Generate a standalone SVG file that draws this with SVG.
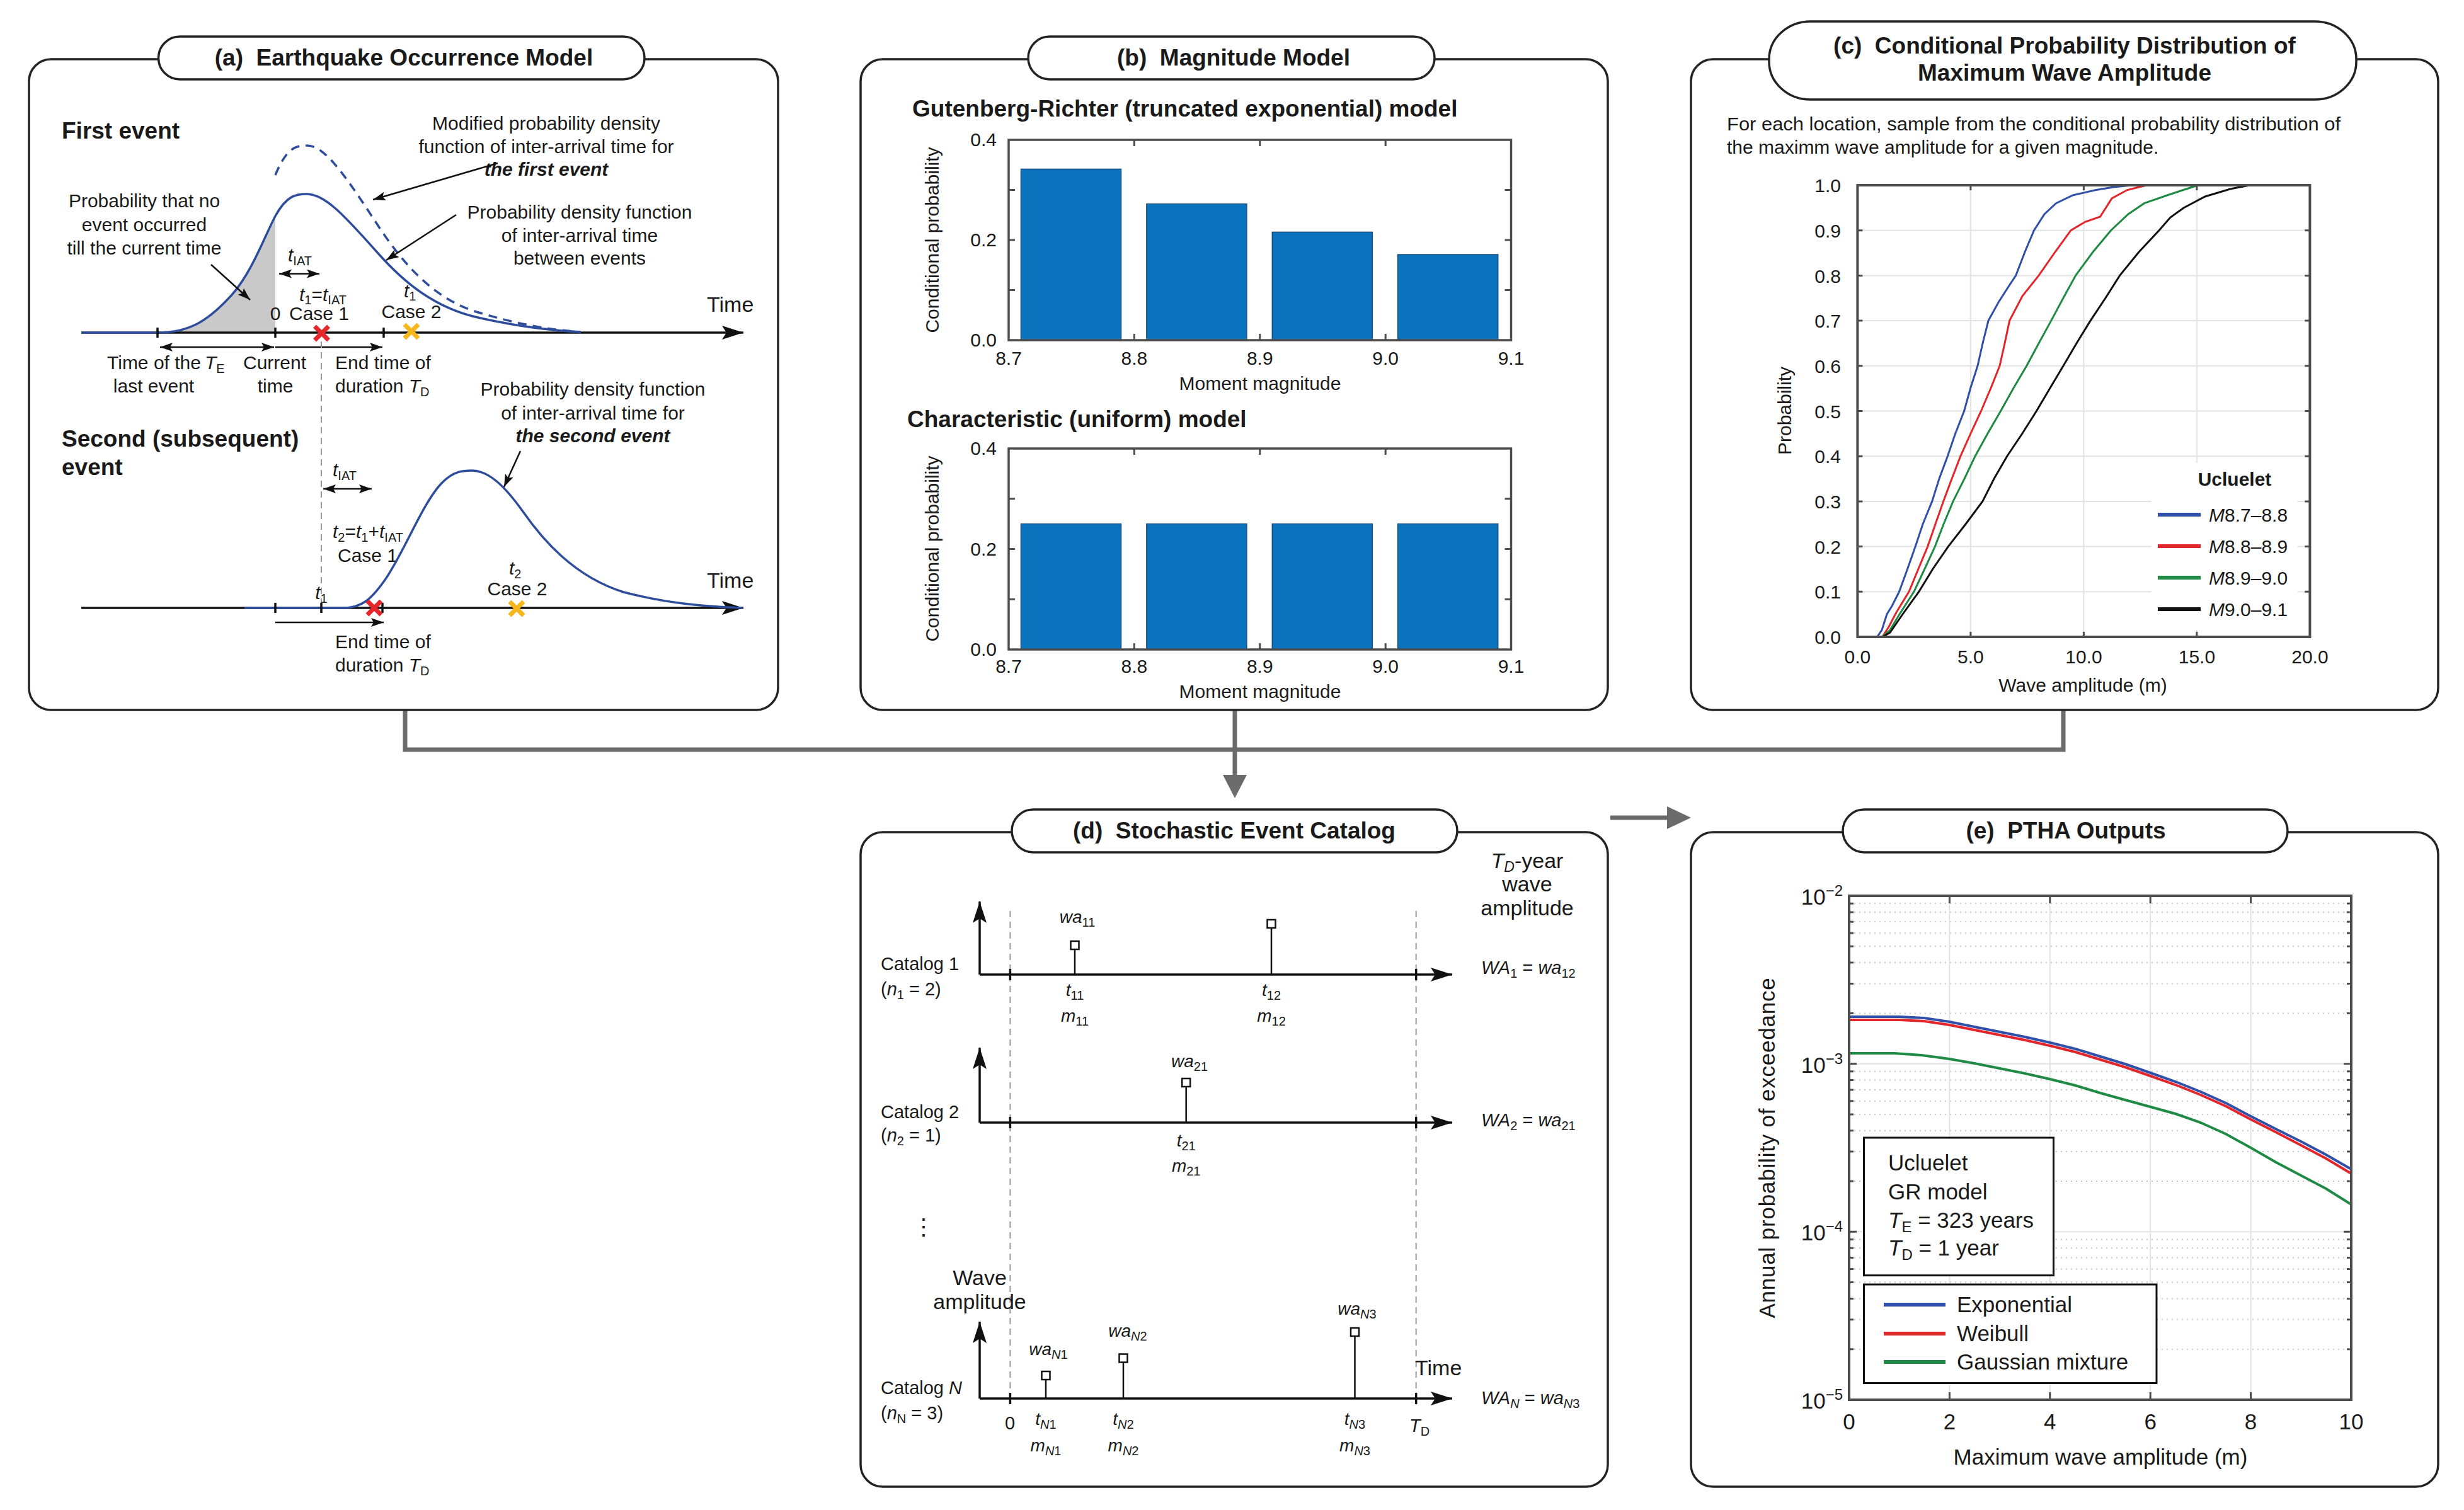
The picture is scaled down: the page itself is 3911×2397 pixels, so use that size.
<svg xmlns="http://www.w3.org/2000/svg" width="3911" height="2397" viewBox="0 0 3911 2397">
<style>
text{font-family:"Liberation Sans",Arial,sans-serif;fill:#1a1a1a}
.t28{font-size:28px}.t29{font-size:29px}.t30{font-size:30px}.t34{font-size:34px}.t35{font-size:35px}
.b37{font-size:37px;font-weight:bold}
.ttl{font-size:37px;font-weight:bold;text-anchor:middle}
.i{font-style:italic}.bi{font-style:italic;font-weight:bold}
.mid{text-anchor:middle}.end{text-anchor:end}
.frame{fill:none;stroke:#222;stroke-width:3.5}
.pill{fill:#fff;stroke:#222;stroke-width:3.5}
.ax{fill:none;stroke:#111;stroke-width:3.5}
.ann{fill:none;stroke:#111;stroke-width:2.5}
.tick{stroke:#111;stroke-width:3.5}
.pdf{fill:none;stroke:#2d4d9c;stroke-width:3.5}
.xr{stroke:#e5262b;stroke-width:7;stroke-linecap:butt}
.xy{stroke:#f5b71c;stroke-width:7;stroke-linecap:butt}
.box{fill:none;stroke:#4d4d4d;stroke-width:3.5}
.bar{fill:#0b72bd;stroke:#1d4f7d;stroke-width:1.5}
.grid{stroke:#e3e3e3;stroke-width:2;fill:none}
.mgrid{stroke:#c8c8c8;stroke-width:2;stroke-dasharray:2 6;fill:none}
.mtk{stroke:#4d4d4d;stroke-width:3}
.vd{stroke:#9a9a9a;stroke-width:2;stroke-dasharray:10 7;fill:none}
.stem{stroke:#111;stroke-width:2.5;fill:none}
.sq{fill:#fff;stroke:#111;stroke-width:2.5}
</style>
<defs>
<marker id="ah" markerUnits="userSpaceOnUse" markerWidth="40" markerHeight="30" refX="34" refY="11" orient="auto-start-reverse"><path d="M0,0 L34,11 L0,22 L7,11 Z" fill="#111"/></marker>
<marker id="sa" markerUnits="userSpaceOnUse" markerWidth="24" markerHeight="16" refX="20" refY="7" orient="auto-start-reverse"><path d="M0,0 L20,7 L0,14 L4,7 Z" fill="#111"/></marker>
</defs>
<rect width="3911" height="2397" fill="#fff"/>

<g id="connectors" fill="none" stroke="#6b6b6b" stroke-width="7">
<path d="M643,1127 V1190 H3275 V1127"/>
<path d="M1960,1127 V1234"/>
<polygon points="1941,1230 1979,1230 1960,1267" fill="#6b6b6b" stroke="none"/>
<path d="M2556,1298 H2650"/>
<polygon points="2646,1280 2684,1298 2646,1316" fill="#6b6b6b" stroke="none"/>
</g>

<g id="panel-a">
<rect class="frame" x="46" y="94" width="1189" height="1033" rx="35"/>
<rect class="pill" x="251.5" y="58" width="771.5" height="68" rx="34"/>
<text class="ttl" x="641" y="104">(a)&#160;&#160;Earthquake Occurrence Model</text>
<text class="b37" x="98" y="220">First event</text>
<path d="M250,528 C300,528 330,510 368,468 C400,432 420,375 437,343 L437,528 Z" fill="#c9c9c9"/>
<path class="ax" d="M129,528 H1180" marker-end="url(#ah)"/>
<path class="pdf" d="M129,528 L250,528 C300,528 330,510 368,468 C400,432 420,375 437,343 C455,310 470,308 487,308 C515,308 545,340 600,402 C640,447 690,490 763,505 C830,520 880,525 922,527"/>
<path class="pdf" stroke-dasharray="14 10" d="M437,278 C455,234 470,231 487,231 C515,231 545,274 600,358 C640,419 690,477 763,497 C830,517 880,524 922,527"/>
<line class="tick" x1="250" y1="520" x2="250" y2="536"/>
<line class="tick" x1="437" y1="520" x2="437" y2="536"/>
<line class="tick" x1="609" y1="520" x2="609" y2="536"/>
<path class="xr" d="M499.5,518 L521.5,540 M521.5,518 L499.5,540"/>
<path class="xy" d="M642,515 L664,537 M664,515 L642,537"/>
<text class="t30 mid" x="229" y="329">Probability that no</text>
<text class="t30 mid" x="229" y="367">event occurred</text>
<text class="t30 mid" x="229" y="404">till the current time</text>
<path class="ann" d="M335,420 L397,476" marker-end="url(#sa)"/>
<text class="t30 mid" x="867" y="206">Modified probability density</text>
<text class="t30 mid" x="867" y="243">function of inter-arrival time for</text>
<text class="t30 mid bi" x="867" y="279">the first event</text>
<path class="ann" d="M790,259 L592,317" marker-end="url(#sa)"/>
<text class="t30 mid" x="920" y="347">Probability density function</text>
<text class="t30 mid" x="920" y="384">of inter-arrival time</text>
<text class="t30 mid" x="920" y="420">between events</text>
<path class="ann" d="M724,341 L613,413" marker-end="url(#sa)"/>
<text class="t34" x="1122" y="495">Time</text>
<text class="t30" x="457" y="415"><tspan class="i">t</tspan><tspan font-size="20" dy="6">IAT</tspan></text>
<path class="ann" d="M443,434.5 H507" marker-start="url(#sa)" marker-end="url(#sa)"/>
<text class="t30" x="475" y="478"><tspan class="i">t</tspan><tspan font-size="20" dy="5">1</tspan><tspan dy="-5">=</tspan><tspan class="i">t</tspan><tspan font-size="20" dy="5">IAT</tspan></text>
<text class="t30 mid" x="437" y="508">0</text>
<text class="t30" x="459" y="508">Case 1</text>
<text class="t30" x="641" y="472"><tspan class="i">t</tspan><tspan font-size="20" dy="5">1</tspan></text>
<text class="t30 mid" x="653" y="505">Case 2</text>
<path class="ann" d="M254,551 H435" marker-start="url(#sa)" marker-end="url(#sa)"/>
<path class="ann" d="M437,551 H607" marker-end="url(#sa)"/>
<text class="t30" x="170" y="586">Time of the</text>
<text class="t30" x="325" y="586"><tspan class="i">T</tspan><tspan font-size="20" dy="6">E</tspan></text>
<text class="t30" x="386" y="586">Current</text>
<text class="t30" x="532" y="586">End time of</text>
<text class="t30 mid" x="244" y="623">last event</text>
<text class="t30 mid" x="437" y="623">time</text>
<text class="t30" x="532" y="623">duration <tspan class="i">T</tspan><tspan font-size="20" dy="6">D</tspan></text>
<line class="vd" x1="510" y1="542" x2="510" y2="965"/>
<text class="b37" x="98" y="709">Second (subsequent)</text>
<text class="b37" x="98" y="754">event</text>
<text class="t30" x="528" y="756"><tspan class="i">t</tspan><tspan font-size="20" dy="6">IAT</tspan></text>
<path class="ann" d="M513,776 H590" marker-start="url(#sa)" marker-end="url(#sa)"/>
<text class="t30" x="528" y="854"><tspan class="i">t</tspan><tspan font-size="20" dy="6">2</tspan><tspan dy="-6">=</tspan><tspan class="i">t</tspan><tspan font-size="20" dy="6">1</tspan><tspan dy="-6">+</tspan><tspan class="i">t</tspan><tspan font-size="20" dy="6">IAT</tspan></text>
<text class="t30" x="536" y="892">Case 1</text>
<text class="t30 mid" x="510" y="951"><tspan class="i">t</tspan><tspan font-size="20" dy="6">1</tspan></text>
<path class="ax" d="M129,965 H1180" marker-end="url(#ah)"/>
<path class="pdf" d="M388,965 L545,965 C575,965 590,950 610,922 C640,880 670,800 700,768 C720,747 735,747 749,747 C775,747 800,770 830,812 C860,855 910,915 990,940 C1060,958 1120,963 1179,965"/>
<line class="tick" x1="437" y1="957" x2="437" y2="973"/>
<line class="tick" x1="510" y1="957" x2="510" y2="973"/>
<line class="tick" x1="607" y1="957" x2="607" y2="973"/>
<path class="xr" d="M583,954 L605,976 M605,954 L583,976"/>
<path class="xy" d="M809,955 L831,977 M831,955 L809,977"/>
<path class="ann" d="M437,988 H609" marker-end="url(#sa)"/>
<text class="t30" x="532" y="1029">End time of</text>
<text class="t30" x="532" y="1066">duration <tspan class="i">T</tspan><tspan font-size="20" dy="6">D</tspan></text>
<text class="t30 mid" x="941" y="628">Probability density function</text>
<text class="t30 mid" x="941" y="666">of inter-arrival time for</text>
<text class="t30 mid bi" x="941" y="702">the second event</text>
<path class="ann" d="M826,716 L800,773" marker-end="url(#sa)"/>
<text class="t30" x="808" y="912"><tspan class="i">t</tspan><tspan font-size="20" dy="6">2</tspan></text>
<text class="t30 mid" x="821" y="945">Case 2</text>
<text class="t34" x="1122" y="933">Time</text>
</g>

<g id="panel-b">
<rect class="frame" x="1366" y="94" width="1186" height="1033" rx="35"/>
<rect class="pill" x="1632" y="58" width="645" height="68" rx="34"/>
<text class="ttl" x="1958" y="104">(b)&#160;&#160;Magnitude Model</text>
<text class="b37" x="1448" y="185">Gutenberg-Richter (truncated exponential) model</text>
<rect class="bar" x="1620.5" y="268.4" width="159" height="271.6"/>
<rect class="bar" x="1819.9" y="323.7" width="159" height="216.3"/>
<rect class="bar" x="2019.3" y="368.4" width="159" height="171.6"/>
<rect class="bar" x="2218.7" y="404" width="159" height="136"/>
<rect class="box" x="1601" y="222" width="797.5" height="318"/>
<path class="mtk" d="M1800.4,222 v10 M1999.8,222 v10 M2199.2,222 v10 M1800.4,540 v-10 M1999.8,540 v-10 M2199.2,540 v-10 M2398.5,460.5 h-10 M2398.5,381 h-10 M2398.5,301.5 h-10 M1601,460.5 h10 M1601,381 h10 M1601,301.5 h10"/>
<text class="t30 end" x="1582" y="232">0.4</text>
<text class="t30 end" x="1582" y="391">0.2</text>
<text class="t30 end" x="1582" y="550">0.0</text>
<text class="t30 mid" x="1601" y="579">8.7</text>
<text class="t30 mid" x="1800.4" y="579">8.8</text>
<text class="t30 mid" x="1999.8" y="579">8.9</text>
<text class="t30 mid" x="2199.2" y="579">9.0</text>
<text class="t30 mid" x="2398.5" y="579">9.1</text>
<text class="t30 mid" x="2000" y="619">Moment magnitude</text>
<text class="t30 mid" transform="translate(1490,381) rotate(-90)">Conditional probability</text>
<text class="b37" x="1440" y="678">Characteristic (uniform) model</text>
<rect class="bar" x="1620.5" y="831.6" width="159" height="199.4"/>
<rect class="bar" x="1819.9" y="831.6" width="159" height="199.4"/>
<rect class="bar" x="2019.3" y="831.6" width="159" height="199.4"/>
<rect class="bar" x="2218.7" y="831.6" width="159" height="199.4"/>
<rect class="box" x="1601" y="712" width="797.5" height="319"/>
<path class="mtk" d="M1800.4,712 v10 M1999.8,712 v10 M2199.2,712 v10 M1800.4,1031 v-10 M1999.8,1031 v-10 M2199.2,1031 v-10 M2398.5,951.3 h-10 M2398.5,871.5 h-10 M2398.5,791.8 h-10 M1601,951.3 h10 M1601,871.5 h10 M1601,791.8 h10"/>
<text class="t30 end" x="1582" y="722">0.4</text>
<text class="t30 end" x="1582" y="881.5">0.2</text>
<text class="t30 end" x="1582" y="1041">0.0</text>
<text class="t30 mid" x="1601" y="1068">8.7</text>
<text class="t30 mid" x="1800.4" y="1068">8.8</text>
<text class="t30 mid" x="1999.8" y="1068">8.9</text>
<text class="t30 mid" x="2199.2" y="1068">9.0</text>
<text class="t30 mid" x="2398.5" y="1068">9.1</text>
<text class="t30 mid" x="2000" y="1108">Moment magnitude</text>
<text class="t30 mid" transform="translate(1490,871) rotate(-90)">Conditional probability</text>
</g>

<g id="panel-c">
<rect class="frame" x="2684" y="94" width="1186" height="1033" rx="35"/>
<rect class="pill" x="2808" y="34" width="932" height="124" rx="66" ry="60"/>
<text class="ttl" x="3277" y="85">(c)&#160;&#160;Conditional Probability Distribution of</text>
<text class="ttl" x="3277" y="128">Maximum Wave Amplitude</text>
<text class="t30" x="2741" y="207" textLength="974" lengthAdjust="spacingAndGlyphs">For each location, sample from the conditional probability distribution of</text>
<text class="t30" x="2741" y="244">the maximm wave amplitude for a given magnitude.</text>
<path class="grid" d="M2948.4,939.3 H3666.4 M2948.4,867.6 H3666.4 M2948.4,795.9 H3666.4 M2948.4,724.2 H3666.4 M2948.4,652.5 H3666.4 M2948.4,580.8 H3666.4 M2948.4,509.1 H3666.4 M2948.4,437.4 H3666.4 M2948.4,365.7 H3666.4 M3127.9,294 V1011 M3307.4,294 V1011 M3486.9,294 V1011"/>
<rect x="3415" y="735" width="232" height="265" fill="#fff"/>
<polyline fill="none" stroke="#2f4fa8" stroke-width="3" points="2979.5,1011 2987,1000 2995,975 3003,962 3014.5,939.3 3027,905 3040.2,867.6 3052,832 3066.7,795.9 3078,760 3091.3,724.2 3103,690 3117.6,652.5 3128,615 3139,580.8 3147,545 3156,509.1 3172,480 3188,455 3199.7,437.4 3214,400 3228.5,365.7 3245,340 3263.5,322.7 3290,310 3325.7,301.8 3355,297 3384,294"/>
<polyline fill="none" stroke="#e3262b" stroke-width="3" points="2987.7,1011 2998,995 3010,972 3030,939.3 3045,903 3059.7,867.6 3072,832 3084.6,795.9 3098,760 3111.8,724.2 3128,688 3144.5,652.5 3160,616 3174,580.8 3182,545 3189.6,509.1 3210,470 3236,437.4 3262,400 3287,365.7 3310,352 3333.5,344 3352,315 3376,301.8 3395,297 3407.8,294"/>
<polyline fill="none" stroke="#1e8a44" stroke-width="3" points="2987.7,1011 3000,1000 3015,975 3037.9,939.3 3055,903 3071.3,867.6 3085,832 3100,795.9 3118,760 3135,724.2 3155,688 3175.6,652.5 3196,616 3216.8,580.8 3236,545 3255.7,509.1 3275,473 3294.6,437.4 3322,400 3350.6,365.7 3378,340 3403.5,322.7 3440,310 3458,304 3489,294"/>
<polyline fill="none" stroke="#111" stroke-width="3" points="2988,1011 3000,1004 3020,975 3045.7,939.3 3068,903 3092.3,867.6 3120,832 3146.8,795.9 3165,760 3185.7,724.2 3210,688 3232.4,652.5 3254,616 3275,580.8 3296,545 3318,509.1 3342,473 3364.6,437.4 3395,400 3427,365.7 3445,345 3466,330 3500,312 3540,300 3571,294"/>
<rect x="2948.4" y="294" width="718" height="717" fill="none" stroke="#4d4d4d" stroke-width="4"/>
<path class="mtk" d="M2948.4,939.3 h8 M2948.4,867.6 h8 M2948.4,795.9 h8 M2948.4,724.2 h8 M2948.4,652.5 h8 M2948.4,580.8 h8 M2948.4,509.1 h8 M2948.4,437.4 h8 M2948.4,365.7 h8 M3666.4,939.3 h-8 M3666.4,867.6 h-8 M3666.4,795.9 h-8 M3666.4,724.2 h-8 M3666.4,652.5 h-8 M3666.4,580.8 h-8 M3666.4,509.1 h-8 M3666.4,437.4 h-8 M3666.4,365.7 h-8 M3127.9,1011 v-8 M3307.4,1011 v-8 M3486.9,1011 v-8 M3127.9,294 v8 M3307.4,294 v8 M3486.9,294 v8"/>
<text class="t30 end" x="2922" y="1022">0.0</text>
<text class="t30 end" x="2922" y="950">0.1</text>
<text class="t30 end" x="2922" y="879">0.2</text>
<text class="t30 end" x="2922" y="807">0.3</text>
<text class="t30 end" x="2922" y="735">0.4</text>
<text class="t30 end" x="2922" y="664">0.5</text>
<text class="t30 end" x="2922" y="592">0.6</text>
<text class="t30 end" x="2922" y="520">0.7</text>
<text class="t30 end" x="2922" y="449">0.8</text>
<text class="t30 end" x="2922" y="377">0.9</text>
<text class="t30 end" x="2922" y="305">1.0</text>
<text class="t30 mid" x="2948.4" y="1053">0.0</text>
<text class="t30 mid" x="3127.9" y="1053">5.0</text>
<text class="t30 mid" x="3307.4" y="1053">10.0</text>
<text class="t30 mid" x="3486.9" y="1053">15.0</text>
<text class="t30 mid" x="3666.4" y="1053">20.0</text>
<text class="t30 mid" x="3306" y="1098">Wave amplitude (m)</text>
<text class="t30 mid" transform="translate(2843,652) rotate(-90)">Probability</text>
<text class="mid" x="3547" y="771" font-size="30" font-weight="bold">Ucluelet</text>
<path d="M3425,817 H3493" stroke="#2f4fa8" stroke-width="6"/>
<path d="M3425,867 H3493" stroke="#e3262b" stroke-width="6"/>
<path d="M3425,917 H3493" stroke="#1e8a44" stroke-width="6"/>
<path d="M3425,967 H3493" stroke="#111" stroke-width="6"/>
<text class="t30" x="3506" y="828"><tspan class="i">M</tspan>8.7–8.8</text>
<text class="t30" x="3506" y="878"><tspan class="i">M</tspan>8.8–8.9</text>
<text class="t30" x="3506" y="928"><tspan class="i">M</tspan>8.9–9.0</text>
<text class="t30" x="3506" y="978"><tspan class="i">M</tspan>9.0–9.1</text>
</g>

<g id="panel-d">
<rect class="frame" x="1366" y="1321" width="1186" height="1039" rx="35"/>
<rect class="pill" x="1606" y="1285" width="707" height="68" rx="34"/>
<text class="ttl" x="1959" y="1331">(d)&#160;&#160;Stochastic Event Catalog</text>
<line class="vd" x1="1603.4" y1="1446" x2="1603.4" y2="2229"/>
<line class="vd" x1="2247.7" y1="1446" x2="2247.7" y2="2229"/>
<text class="t34 mid" x="2424" y="1378"><tspan class="i">T</tspan><tspan class="i" font-size="23" dy="6">D</tspan><tspan dy="-6">-year</tspan></text>
<text class="t34 mid" x="2424" y="1415">wave</text>
<text class="t34 mid" x="2424" y="1453">amplitude</text>
<path class="ax" d="M1555,1547 V1431" marker-end="url(#ah)"/>
<path class="ax" d="M1555,1547 H2305" marker-end="url(#ah)"/>
<path class="tick" d="M1603.4,1538 V1556 M2247.7,1538 V1556"/>
<path class="stem" d="M1706,1547 V1507 M2018,1547 V1473"/>
<rect class="sq" x="1699.5" y="1494" width="13" height="13"/>
<rect class="sq" x="2011.5" y="1460" width="13" height="13"/>
<text class="t28 mid" x="1710" y="1465"><tspan class="i">wa</tspan><tspan font-size="20" dy="6">11</tspan></text>
<text class="t28 mid" x="1706" y="1581"><tspan class="i">t</tspan><tspan font-size="20" dy="6">11</tspan></text>
<text class="t28 mid" x="1706" y="1622"><tspan class="i">m</tspan><tspan font-size="20" dy="6">11</tspan></text>
<text class="t28 mid" x="2018" y="1581"><tspan class="i">t</tspan><tspan font-size="20" dy="6">12</tspan></text>
<text class="t28 mid" x="2018" y="1622"><tspan class="i">m</tspan><tspan font-size="20" dy="6">12</tspan></text>
<text class="t29" x="1398" y="1540">Catalog 1</text>
<text class="t29" x="1398" y="1580">(<tspan class="i">n</tspan><tspan font-size="20" dy="6">1</tspan><tspan dy="-6"> = 2)</tspan></text>
<text class="t29" x="2351" y="1546"><tspan class="i">WA</tspan><tspan font-size="20" dy="6">1</tspan><tspan dy="-6"> = </tspan><tspan class="i">wa</tspan><tspan font-size="20" dy="6">12</tspan></text>
<path class="ax" d="M1555,1782 V1663" marker-end="url(#ah)"/>
<path class="ax" d="M1555,1782 H2305" marker-end="url(#ah)"/>
<path class="tick" d="M1603.4,1773 V1791 M2247.7,1773 V1791"/>
<path class="stem" d="M1882.7,1782 V1725"/>
<rect class="sq" x="1876.2" y="1712" width="13" height="13"/>
<text class="t28 mid" x="1888" y="1694"><tspan class="i">wa</tspan><tspan font-size="20" dy="6">21</tspan></text>
<text class="t28 mid" x="1882.7" y="1820"><tspan class="i">t</tspan><tspan font-size="20" dy="6">21</tspan></text>
<text class="t28 mid" x="1882.7" y="1860"><tspan class="i">m</tspan><tspan font-size="20" dy="6">21</tspan></text>
<text class="t29" x="1398" y="1775">Catalog 2</text>
<text class="t29" x="1398" y="1812">(<tspan class="i">n</tspan><tspan font-size="20" dy="6">2</tspan><tspan dy="-6"> = 1)</tspan></text>
<text class="t29" x="2351" y="1788"><tspan class="i">WA</tspan><tspan font-size="20" dy="6">2</tspan><tspan dy="-6"> = </tspan><tspan class="i">wa</tspan><tspan font-size="20" dy="6">21</tspan></text>
<text x="1466" y="1960" font-family="DejaVu Sans, sans-serif" font-size="36" text-anchor="middle">⋮</text>
<text class="t34 mid" x="1555" y="2040">Wave</text>
<text class="t34 mid" x="1555" y="2078">amplitude</text>
<path class="ax" d="M1555,2220 V2098" marker-end="url(#ah)"/>
<path class="ax" d="M1555,2220 H2305" marker-end="url(#ah)"/>
<path class="tick" d="M1603.4,2211 V2229 M2247.7,2211 V2229"/>
<path class="stem" d="M1660,2220 V2190 M1783,2220 V2162.5 M2150.5,2220 V2121"/>
<rect class="sq" x="1653.5" y="2177" width="13" height="13"/>
<rect class="sq" x="1776.5" y="2149.5" width="13" height="13"/>
<rect class="sq" x="2144" y="2108" width="13" height="13"/>
<text class="t28 mid" x="1664" y="2151"><tspan class="i">wa</tspan><tspan class="i" font-size="20" dy="6">N</tspan><tspan font-size="20">1</tspan></text>
<text class="t28 mid" x="1790" y="2122"><tspan class="i">wa</tspan><tspan class="i" font-size="20" dy="6">N</tspan><tspan font-size="20">2</tspan></text>
<text class="t28 mid" x="2154" y="2087"><tspan class="i">wa</tspan><tspan class="i" font-size="20" dy="6">N</tspan><tspan font-size="20">3</tspan></text>
<text class="t34" x="2246" y="2183">Time</text>
<text class="t29" x="1398" y="2213">Catalog <tspan class="i">N</tspan></text>
<text class="t29" x="1398" y="2253">(<tspan class="i">n</tspan><tspan font-size="20" dy="6">N</tspan><tspan dy="-6"> = 3)</tspan></text>
<text class="t29 mid" x="1603" y="2269">0</text>
<text class="t28 mid" x="1660" y="2262"><tspan class="i">t</tspan><tspan class="i" font-size="20" dy="6">N</tspan><tspan font-size="20">1</tspan></text>
<text class="t28 mid" x="1660" y="2304"><tspan class="i">m</tspan><tspan class="i" font-size="20" dy="6">N</tspan><tspan font-size="20">1</tspan></text>
<text class="t28 mid" x="1783" y="2262"><tspan class="i">t</tspan><tspan class="i" font-size="20" dy="6">N</tspan><tspan font-size="20">2</tspan></text>
<text class="t28 mid" x="1783" y="2304"><tspan class="i">m</tspan><tspan class="i" font-size="20" dy="6">N</tspan><tspan font-size="20">2</tspan></text>
<text class="t28 mid" x="2150.5" y="2262"><tspan class="i">t</tspan><tspan class="i" font-size="20" dy="6">N</tspan><tspan font-size="20">3</tspan></text>
<text class="t28 mid" x="2150.5" y="2304"><tspan class="i">m</tspan><tspan class="i" font-size="20" dy="6">N</tspan><tspan font-size="20">3</tspan></text>
<text class="t29 mid" x="2253" y="2273"><tspan class="i">T</tspan><tspan font-size="20" dy="6">D</tspan></text>
<text class="t29" x="2351" y="2229"><tspan class="i">WA</tspan><tspan class="i" font-size="20" dy="6">N</tspan><tspan dy="-6"> = </tspan><tspan class="i">wa</tspan><tspan class="i" font-size="20" dy="6">N</tspan><tspan font-size="20">3</tspan></text>
</g>

<g id="panel-e">
<rect class="frame" x="2684" y="1321" width="1186" height="1039" rx="35"/>
<rect class="pill" x="2925" y="1285" width="706" height="68" rx="34"/>
<text class="ttl" x="3279" y="1331">(e)&#160;&#160;PTHA Outputs</text>
<path class="mgrid" d="M2935,1608.4 H3732 M2935,1561.5 H3732 M2935,1528.1 H3732 M2935,1502.3 H3732 M2935,1481.2 H3732 M2935,1463.3 H3732 M2935,1447.9 H3732 M2935,1434.2 H3732 M2935,1875 H3732 M2935,1828.1 H3732 M2935,1794.8 H3732 M2935,1768.9 H3732 M2935,1747.8 H3732 M2935,1730 H3732 M2935,1714.5 H3732 M2935,1700.8 H3732 M2935,2141.7 H3732 M2935,2094.8 H3732 M2935,2061.5 H3732 M2935,2035.6 H3732 M2935,2014.5 H3732 M2935,1996.6 H3732 M2935,1981.2 H3732 M2935,1967.5 H3732"/>
<path class="grid" d="M2935,1688.7 H3732 M2935,1955.3 H3732 M3094.4,1422 V2222 M3253.8,1422 V2222 M3413.2,1422 V2222 M3572.6,1422 V2222"/>
<polyline fill="none" stroke="#1e8a44" stroke-width="4" points="2935,1672 3006.7,1672 3050,1675 3094.4,1681 3134,1688 3174.1,1696 3214,1704 3253.8,1713 3294,1723 3333.5,1735 3373,1746 3413.2,1757 3453,1768 3492.9,1782 3532.8,1800 3572.6,1822 3612.5,1845 3652.3,1866 3692.2,1887 3732,1912"/>
<polyline fill="none" stroke="#e3262b" stroke-width="4" points="2935,1619 3014.7,1619 3054,1621 3094.4,1627 3134,1635 3174.1,1643 3214,1651 3253.8,1660 3294,1670 3333.5,1682 3373,1694 3413.2,1708 3453,1722 3492.9,1738 3533,1756 3572.6,1777 3612,1797 3652.3,1818 3692,1839 3732,1863"/>
<polyline fill="none" stroke="#2f4fa8" stroke-width="4" points="2935,1614 3014.7,1614 3054,1616 3094.4,1622 3134,1630 3174.1,1638 3214,1646 3253.8,1655 3294,1665 3333.5,1677 3373,1689 3413.2,1703 3453,1717 3492.9,1733 3533,1751 3572.6,1772 3612,1792 3652.3,1812 3692,1833 3732,1856"/>
<rect x="2935" y="1422" width="797" height="800" fill="none" stroke="#4d4d4d" stroke-width="4"/>
<path class="mtk" d="M3094.4,1422 v12 M3253.8,1422 v12 M3413.2,1422 v12 M3572.6,1422 v12 M3094.4,2222 v-12 M3253.8,2222 v-12 M3413.2,2222 v-12 M3572.6,2222 v-12 M2935,1688.7 h12 M2935,1955.3 h12 M3732,1688.7 h-12 M3732,1955.3 h-12"/>
<path class="mtk" stroke-width="2" d="M2935,1608.4 h7 M2935,1561.5 h7 M2935,1528.1 h7 M2935,1502.3 h7 M2935,1481.2 h7 M2935,1463.3 h7 M2935,1447.9 h7 M2935,1434.2 h7 M2935,1875 h7 M2935,1828.1 h7 M2935,1794.8 h7 M2935,1768.9 h7 M2935,1747.8 h7 M2935,1730 h7 M2935,1714.5 h7 M2935,1700.8 h7 M2935,2141.7 h7 M2935,2094.8 h7 M2935,2061.5 h7 M2935,2035.6 h7 M2935,2014.5 h7 M2935,1996.6 h7 M2935,1981.2 h7 M2935,1967.5 h7 M3732,1608.4 h-7 M3732,1561.5 h-7 M3732,1528.1 h-7 M3732,1502.3 h-7 M3732,1481.2 h-7 M3732,1463.3 h-7 M3732,1447.9 h-7 M3732,1434.2 h-7 M3732,1875 h-7 M3732,1828.1 h-7 M3732,1794.8 h-7 M3732,1768.9 h-7 M3732,1747.8 h-7 M3732,1730 h-7 M3732,1714.5 h-7 M3732,1700.8 h-7 M3732,2141.7 h-7 M3732,2094.8 h-7 M3732,2061.5 h-7 M3732,2035.6 h-7 M3732,2014.5 h-7 M3732,1996.6 h-7 M3732,1981.2 h-7 M3732,1967.5 h-7"/>
<text class="t35 end" x="2925" y="1436">10<tspan font-size="24" dy="-14">−2</tspan></text>
<text class="t35 end" x="2925" y="1703">10<tspan font-size="24" dy="-14">−3</tspan></text>
<text class="t35 end" x="2925" y="1969">10<tspan font-size="24" dy="-14">−4</tspan></text>
<text class="t35 end" x="2925" y="2236">10<tspan font-size="24" dy="-14">−5</tspan></text>
<text class="t35 mid" x="2935" y="2269">0</text>
<text class="t35 mid" x="3094.4" y="2269">2</text>
<text class="t35 mid" x="3253.8" y="2269">4</text>
<text class="t35 mid" x="3413.2" y="2269">6</text>
<text class="t35 mid" x="3572.6" y="2269">8</text>
<text class="t35 mid" x="3732" y="2269">10</text>
<text class="t35 mid" x="3334" y="2325">Maximum wave amplitude (m)</text>
<text class="t35 mid" letter-spacing="0.8" transform="translate(2817,1822) rotate(-90)">Annual probability of exceedance</text>
<rect x="2958.5" y="1806" width="301" height="218.6" fill="#fff" stroke="#111" stroke-width="3"/>
<text class="t35" x="2997" y="1858">Ucluelet</text>
<text class="t35" x="2997" y="1904">GR model</text>
<text class="t35" x="2997" y="1949"><tspan class="i">T</tspan><tspan font-size="24" dy="7">E</tspan><tspan dy="-7"> = 323 years</tspan></text>
<text class="t35" x="2997" y="1993"><tspan class="i">T</tspan><tspan font-size="24" dy="7">D</tspan><tspan dy="-7"> = 1 year</tspan></text>
<rect x="2958.5" y="2039" width="464.5" height="156.5" fill="#fff" stroke="#111" stroke-width="3"/>
<path d="M2990,2071 H3088" stroke="#2f4fa8" stroke-width="6"/>
<path d="M2990,2117 H3088" stroke="#e3262b" stroke-width="6"/>
<path d="M2990,2162 H3088" stroke="#1e8a44" stroke-width="6"/>
<text class="t35" x="3106" y="2083">Exponential</text>
<text class="t35" x="3106" y="2129">Weibull</text>
<text class="t35" x="3106" y="2174">Gaussian mixture</text>
</g>
</svg>
